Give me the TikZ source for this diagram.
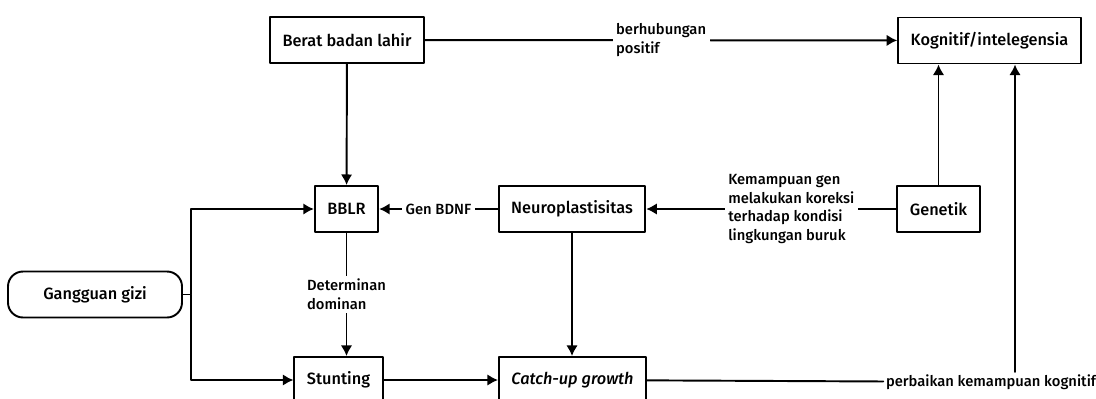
\documentclass[tikz,border=0pt]{standalone}
\usepackage{fontspec}
\setmainfont{Fira Sans}[UprightFont={* Medium}, ItalicFont={* Medium Italic}]
\usetikzlibrary{arrows.meta}
\begin{document}
\begin{tikzpicture}[>={Latex[length=6pt,width=6.5pt]}, line join=round, line cap=round, line width=1.1pt,
    font=\fontsize{9.3}{11}\selectfont,
    box/.style={draw, minimum height=0.92cm, inner xsep=0.25cm},
    rbox/.style={box, rounded corners=0.3cm, minimum width=3.48cm},
    lbl/.style={fill=white, align=left, inner sep=2pt, font=\fontsize{8.4}{10.6}\selectfont}]
                \def\xmax{21.92} \def\ymax{7.96}
                \useasboundingbox (0,0) rectangle (\xmax,\ymax);
                \clip (0,0) rectangle (\xmax,\ymax);
                % top row
                \node[box] (berat) at (6.94,7.16) {Berat badan lahir};
                \node[box] (kog) at (19.79,7.15) {Kognitif/intelegensia};
                % middle row
                \node[box] (bblr) at (6.93,3.78) {BBLR};
                \node[box] (neuro) at (11.44,3.78) {Neuroplastisitas};
                \node[box] (gen) at (18.77,3.78) {Genetik};
                \node[rbox] (gizi) at (1.9,2.07) {Gangguan gizi};
                % bottom row
                \node[box] (stunt) at (6.77,0.36) {Stunting};
                \node[box] (catch) at (11.45,0.36) {\textit{Catch-up growth}};
                \node[lbl, inner sep=1pt] (perb) at (19.82,0.32) {perbaikan kemampuan kognitif};
                \coordinate (kogin) at (20.3,7.15);
                % connectors
                \draw[->] (berat)--(kog) node[lbl, midway]{berhubungan\\positif};
                \draw[->] (berat)--(bblr);
                \draw[->] (gizi.east)--++(0.16,0) |- (bblr);
                \draw[->] (gizi.east)--++(0.16,0) |- (stunt);
                \draw[->] (neuro)--(bblr) node[lbl, midway]{Gen BDNF};
                \draw[->] (gen)--(neuro) node[lbl, pos=0.42]{Kemampuan gen\\melakukan koreksi\\terhadap kondisi\\lingkungan buruk};
                \draw[->] (gen.north)--(gen.north |- kog.south);
                \draw[->] (bblr)--(bblr |- stunt.north) node[lbl, midway]{Determinan\\dominan};
                \draw[->] (stunt)--(catch);
                \draw[->] (neuro)--(neuro |- catch.north);
                \draw (catch)--(perb);
                \draw[->] (perb.north -| kogin)--(kog.south -| kogin);
            \end{tikzpicture}
\end{document}
